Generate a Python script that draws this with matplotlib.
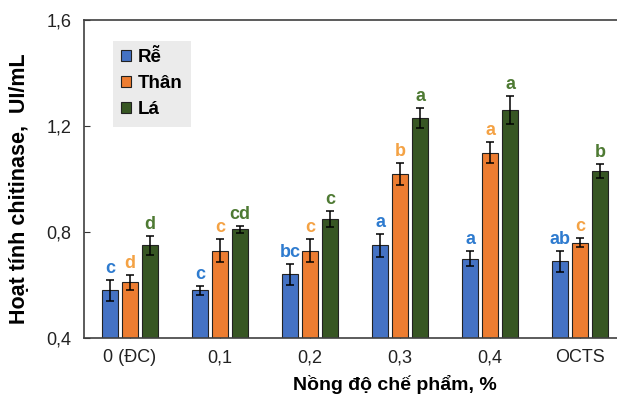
import numpy as np
import matplotlib.pyplot as plt

plt.rcParams['font.family'] = ['Liberation Sans', 'DejaVu Sans']

#-------------------------------------------------------
groups = ['0 (ĐC)', '0,1', '0,2', '0,3', '0,4', 'OCTS']
series = ['Rễ', 'Thân', 'Lá']

re_val = [0.58, 0.58, 0.64, 0.75, 0.70, 0.69]
than_val = [0.61, 0.73, 0.73, 1.02, 1.10, 0.76]
la_val = [0.75, 0.81, 0.85, 1.23, 1.26, 1.03]

re_err = [0.04, 0.016, 0.04, 0.043, 0.028, 0.04]
than_err = [0.027, 0.043, 0.043, 0.041, 0.04, 0.017]
la_err = [0.036, 0.013, 0.03, 0.038, 0.053, 0.026]

re_lab = ['c', 'c', 'bc', 'a', 'a', 'ab']
than_lab = ['d', 'c', 'c', 'b', 'a', 'c']
la_lab = ['d', 'cd', 'c', 'a', 'a', 'b']
#-------------------------------------------------------

bar_colors = ['#4472C4', '#ED7D31', '#375623']
text_colors = ['#2E7BCF', '#F4A244', '#4E7A33']

fig = plt.figure(figsize=(6.17, 3.97), dpi=100)
ax = fig.add_axes([84 / 617, 1 - 338 / 397, 542 / 617, 318 / 397])

x = np.arange(len(groups))
w = 0.18
step = 0.222

vals = [re_val, than_val, la_val]
errs = [re_err, than_err, la_err]
labs = [re_lab, than_lab, la_lab]

for i in range(3):
    xs = x + (i - 1) * step
    ax.bar(xs, vals[i], w, color=bar_colors[i], edgecolor='#222222',
           linewidth=0.8, label=series[i], zorder=2)
    ax.errorbar(xs, vals[i], yerr=errs[i], fmt='none', ecolor='black',
                elinewidth=1.1, capsize=3, capthick=1.1, zorder=3)
    for j in range(len(groups)):
        ax.annotate(labs[i][j], (xs[j], vals[i][j] + errs[i][j]),
                    xytext=(0, 2), textcoords='offset points',
                    ha='center', va='bottom', fontsize=13,
                    fontweight='bold', color=text_colors[i])

ax.set_xlim(-0.51, 5.51)
ax.set_ylim(0.4, 1.6)
ax.set_yticks([0.4, 0.8, 1.2, 1.6])
ax.set_yticklabels(['0,4', '0,8', '1,2', '1,6'])
ax.set_xticks(x)
ax.set_xticklabels(groups)
ax.tick_params(axis='both', direction='in', length=4, labelsize=13,
               colors='#333333', labelcolor='#222222')
ax.tick_params(axis='x', pad=8)
ax.tick_params(axis='y', pad=9)

for s in ['top', 'left', 'bottom']:
    ax.spines[s].set_color('#404040')
    ax.spines[s].set_linewidth(1.2)
ax.spines['right'].set_visible(False)

ax.set_ylabel('Hoạt tính chitinase,  UI/mL', fontsize=15.5, fontweight='bold')
ax.set_xlabel('Nồng độ chế phẩm, %', fontsize=14, fontweight='bold')
ax.yaxis.set_label_coords(-0.10, 0.47)
ax.xaxis.set_label_coords(0.574, -0.115)

leg = ax.legend(loc='upper left', bbox_to_anchor=(0.053, 0.934), frameon=True,
                fancybox=False, handlelength=0.55, handleheight=0.55,
                handletextpad=0.35, labelspacing=0.48, borderpad=0.45,
                borderaxespad=0, prop={'weight': 'bold', 'size': 13.5})
leg.get_frame().set_facecolor('#EBEBEB')
leg.get_frame().set_edgecolor('none')
leg.get_frame().set_alpha(1)

fig.savefig('out.png', dpi=100)
